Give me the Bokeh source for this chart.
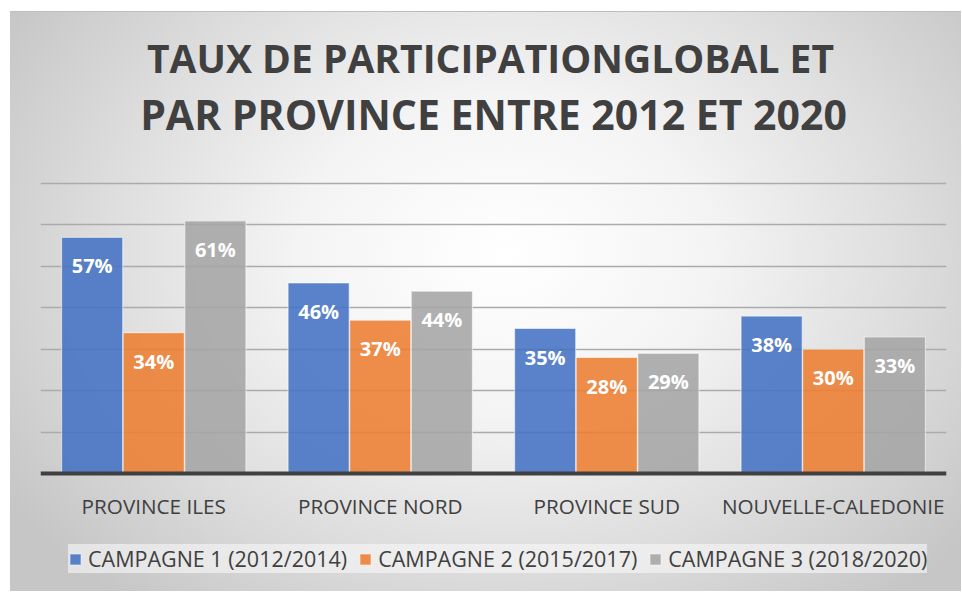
from bokeh.plotting import figure
from bokeh.models import ColumnDataSource, FactorRange, Range1d, FixedTicker, Legend, LegendItem, Label
from bokeh.transform import dodge
from bokeh.core.properties import value
from bokeh.embed import file_html
from bokeh.resources import INLINE

provinces = ["PROVINCE ILES", "PROVINCE NORD", "PROVINCE SUD", "NOUVELLE-CALEDONIE"]
campaigns = ["CAMPAGNE 1 (2012/2014)", "CAMPAGNE 2 (2015/2017)", "CAMPAGNE 3 (2018/2020)"]
campagne1 = [57, 46, 35, 38]
campagne2 = [34, 37, 28, 30]
campagne3 = [61, 44, 29, 33]
grid_ticks = [10, 20, 30, 40, 50, 60, 70]
title_line1 = "TAUX DE PARTICIPATIONGLOBAL ET"
title_line2 = "PAR PROVINCE ENTRE 2012 ET 2020"

colors = ["#4472C4", "#ED7D31", "#A5A5A5"]
offsets = [-0.272, 0.0, 0.272]
FONT = "Open Sans"
TXT = "#404040"

W, H = 951, 579
# pixel geometry of the plotting area (figure pixels)
top_px, base_px, y_max = 171, 461, 70
px_per = (base_px - top_px) / y_max
y_hi = y_max + top_px / px_per
y_lo = -(H - base_px) / px_per

p = figure(
    x_range=FactorRange(*provinces, range_padding=0),
    y_range=Range1d(y_lo, y_hi),
    width=W, height=H,
    output_backend="svg", toolbar_location=None,
    min_border_left=30, min_border_right=15, min_border_top=0, min_border_bottom=0,
)
p.styles = {
    "background": "radial-gradient(ellipse 62% 78% at 52% 42%, #ffffff 0%, #f4f4f4 35%, #dcdcdc 70%, #c6c6c6 100%)",
    "margin-left": "10px",
    "margin-top": "12px",
    "box-shadow": "0 -1px 0 #bdbdbd",
}
p.border_fill_color = None
p.background_fill_color = None
p.outline_line_color = None

items = []
for vals, col, off, name in zip([campagne1, campagne2, campagne3], colors, offsets, campaigns):
    src = ColumnDataSource(dict(x=provinces, y=vals, label=[f"{v}%" for v in vals]))
    r = p.vbar(x=dodge("x", off, range=p.x_range), top="y", bottom=0, width=0.27, source=src,
               fill_color=col, fill_alpha=0.88, line_color="white", line_alpha=0.55, line_width=1.2)
    p.text(x=dodge("x", off, range=p.x_range), y="y", text="label", source=src,
           text_align="center", text_baseline="top", y_offset=15,
           text_font=value(FONT), text_font_style="bold", text_font_size="20px", text_color="white")
    items.append(LegendItem(label=name, renderers=[r]))

p.yaxis.visible = False
p.xgrid.grid_line_color = None
p.ygrid.ticker = FixedTicker(ticks=grid_ticks)
p.ygrid.grid_line_color = "#ababab"
p.ygrid.grid_line_width = 1.5

ax = p.xaxis[0]
ax.fixed_location = 0
ax.axis_line_color = "#404040"
ax.axis_line_width = 4
ax.major_tick_line_color = None
ax.minor_tick_line_color = None
ax.major_label_text_font = FONT
ax.major_label_text_font_size = "20.7px"
ax.major_label_text_color = TXT
ax.major_label_standoff = 12

legend = Legend(items=items, orientation="horizontal", location=(28, 18),
                label_text_font=FONT, label_text_font_size="21.5px", label_text_color=TXT,
                glyph_width=14, glyph_height=14, label_standoff=6, spacing=11,
                label_height=26, padding=10, margin=0,
                background_fill_color="#f8f8f8", background_fill_alpha=0.6,
                border_line_color=None)
p.add_layout(legend, "center")

lab1 = Label(x=450, y=534, x_units="screen", y_units="screen", text=title_line1,
             text_align="center", text_baseline="alphabetic", text_font=FONT,
             text_font_style="bold", text_font_size="39px", text_color=TXT)
lab2 = Label(x=453, y=478, x_units="screen", y_units="screen", text=title_line2,
             text_align="center", text_baseline="alphabetic", text_font=FONT,
             text_font_style="bold", text_font_size="41px", text_color=TXT)
p.add_layout(lab1)
p.add_layout(lab2)

open("out.html", "w").write(file_html(p, INLINE))
